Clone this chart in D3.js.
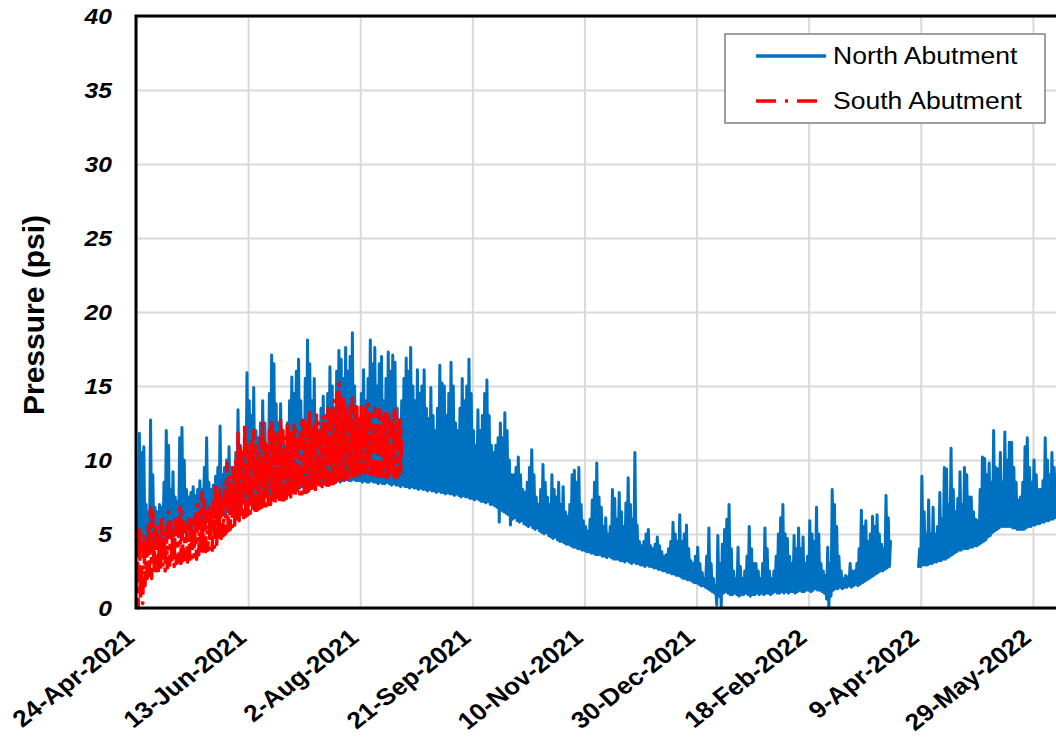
<!DOCTYPE html>
<html><head><meta charset="utf-8">
<script src="https://cdn.jsdelivr.net/npm/d3@7"></script>
<style>body{margin:0;background:#fff}svg{display:block}text{font-family:"Liberation Sans",Arial,sans-serif}</style>
</head><body><svg id="c" width="1056" height="742"></svg>
<script>
// ---------- data ----------
const startDate = "24-Apr-2021";
const xTickLabels = ["24-Apr-2021","13-Jun-2021","2-Aug-2021","21-Sep-2021","10-Nov-2021","30-Dec-2021","18-Feb-2022","9-Apr-2022","29-May-2022"];
const yTicks = [0,5,10,15,20,25,30,35,40];
const seriesNames = ["North Abutment","South Abutment"];

// North Abutment: daily low / daily high (psi), day 0 = 24-Apr-2021, null = no data
const northLo = [
3.8,3.5,3.9,4.0,3.8,4.2,4.1,4.0,4.3,4.4,
4.3,4.5,4.6,4.4,4.7,4.8,4.6,4.9,5.0,4.8,
5.0,5.2,5.1,5.3,5.4,5.2,5.5,5.6,5.4,5.7,
5.8,5.6,5.9,6.0,5.8,6.1,6.2,6.0,6.3,6.4,
6.3,6.5,6.6,6.5,6.8,6.9,6.8,7.0,7.1,7.0,
7.2,7.3,7.2,7.4,7.5,7.4,7.5,7.6,7.5,7.7,
7.7,7.8,7.7,7.8,7.9,7.8,8.0,7.9,8.0,8.1,
8.0,8.1,8.2,8.1,8.2,8.2,8.3,8.2,8.3,8.4,
8.3,8.4,8.4,8.3,8.5,8.4,8.5,8.5,8.6,8.5,
8.6,8.5,8.6,8.6,8.7,8.6,8.6,8.7,8.6,8.6,
8.6,8.5,8.6,8.5,8.5,8.6,8.5,8.5,8.4,8.5,
8.4,8.4,8.5,8.4,8.3,8.4,8.3,8.3,8.2,8.3,
8.2,8.2,8.1,8.2,8.1,8.1,8.0,8.1,8.0,8.0,
7.9,8.0,7.9,7.9,7.8,7.9,7.8,7.8,7.7,7.8,
7.7,7.7,7.6,7.7,7.6,7.5,7.6,7.5,7.5,7.4,
7.4,7.3,7.4,7.3,7.2,7.2,7.1,7.2,7.0,7.0,
6.9,6.8,5.8,6.6,6.5,6.4,6.3,5.6,6.0,6.1,
5.9,5.8,5.9,5.7,5.6,5.5,5.6,5.4,5.3,5.4,
5.2,5.1,5.0,5.1,4.9,4.8,4.7,4.8,4.6,4.5,
4.5,4.4,4.3,4.3,4.2,4.1,4.1,4.0,4.0,3.9,
3.9,3.8,3.8,3.7,3.7,3.6,3.6,3.6,3.5,3.5,
3.4,3.5,3.4,3.3,3.3,3.3,3.2,3.2,3.1,3.2,
3.1,3.0,3.1,3.0,3.0,2.9,2.9,2.8,2.9,2.8,
2.8,2.7,2.7,2.6,2.6,2.5,2.5,2.4,2.4,2.3,
2.3,2.2,2.2,2.1,2.0,2.0,1.9,1.9,1.8,1.7,
1.7,1.6,1.5,1.5,1.4,1.3,1.2,1.1,1.0,0.2,
0.8,0.1,1.0,1.1,1.0,0.9,0.9,1.0,0.9,0.8,
0.9,0.9,1.0,0.9,0.8,0.9,0.9,1.0,0.9,1.0,
0.9,1.0,1.0,0.9,1.0,1.1,1.0,1.0,1.1,1.0,
1.1,1.0,1.1,1.1,1.0,1.1,1.2,1.1,1.1,1.2,
1.2,1.1,1.2,1.3,1.2,1.2,1.1,1.0,0.6,0.0,
0.8,1.2,1.3,1.3,1.4,1.3,1.4,1.4,1.5,1.4,
1.5,1.6,1.5,1.6,1.7,1.8,1.9,2.0,2.1,2.2,
2.3,2.4,2.5,2.5,2.6,2.7,2.8,
null,null,null,null,null,null,null,null,null,null,null,null,
2.8,2.8,2.9,2.9,2.9,3.0,3.0,3.1,3.1,3.2,
3.2,3.3,3.3,3.4,3.5,3.6,3.7,3.8,3.9,3.9,
4.0,4.0,4.0,4.1,4.1,4.2,4.2,4.3,4.4,4.5,
4.6,4.8,4.9,5.1,5.2,5.3,5.4,5.5,5.5,5.5,
5.5,5.5,5.4,5.4,5.3,5.3,5.3,5.3,5.4,5.5,
5.5,5.6,5.6,5.7,5.7,5.8,5.8,5.9,5.9,6.0,
6.0,6.1,6.1,6.2
];
const northHi = [
6.0,11.8,10.5,10.9,7.0,6.5,12.7,9.0,6.8,6.5,
7.0,6.8,8.5,12.0,11.0,8.0,9.2,7.5,7.2,11.5,
12.2,10.0,8.0,7.5,7.8,8.2,7.6,8.0,8.6,8.0,
9.5,11.5,8.5,8.0,8.3,8.9,9.5,12.3,9.0,9.5,
10.0,10.9,9.5,9.0,10.5,13.4,11.0,10.0,12.0,15.9,
14.0,13.0,14.9,12.0,11.5,12.5,14.0,12.5,11.0,14.5,
17.1,16.5,13.8,12.5,13.8,12.0,11.0,12.5,14.0,15.6,
14.5,16.0,16.8,14.0,12.5,15.5,18.1,16.5,14.0,15.5,
13.0,12.0,13.5,14.3,13.0,14.5,16.3,15.0,13.5,16.0,
17.4,16.8,15.5,17.6,16.0,17.0,18.6,15.0,13.0,12.5,
14.5,16.1,14.0,15.5,18.1,16.5,17.6,15.0,16.5,17.0,
14.0,15.5,17.3,16.0,17.1,16.6,13.5,12.5,14.0,15.5,
16.9,16.0,17.6,15.0,14.0,16.1,14.5,15.0,16.1,13.5,
12.8,14.9,13.0,12.0,13.5,16.4,15.2,15.0,13.0,14.5,
16.6,15.0,12.5,12.0,13.5,15.5,14.0,15.0,16.8,14.5,
12.0,11.0,13.4,12.0,13.0,14.5,15.4,13.0,11.0,10.5,
11.0,11.5,12.5,11.5,13.2,12.0,10.0,9.0,9.0,9.5,
10.2,9.0,8.0,7.8,8.5,9.5,10.7,9.0,7.5,7.0,
8.0,9.7,8.5,7.5,7.0,9.0,8.0,7.5,8.5,7.0,
8.2,6.5,6.2,7.0,9.0,9.3,8.5,9.5,7.0,5.9,
5.5,5.2,6.0,7.3,8.5,9.8,7.5,6.8,5.5,6.1,
5.0,5.5,8.0,7.4,6.0,7.8,6.5,5.5,7.1,8.8,
7.0,6.0,10.5,5.6,4.5,4.2,4.5,5.0,5.3,4.2,
4.0,4.3,4.8,4.2,3.8,3.5,3.6,4.0,4.5,5.8,
5.0,4.5,6.3,4.5,5.0,5.6,4.0,3.2,3.0,3.5,
4.1,3.0,2.4,2.0,3.5,5.4,3.0,2.0,1.5,4.9,
3.0,4.3,5.3,6.0,7.0,4.0,2.5,2.0,4.1,2.8,
2.0,2.5,3.5,5.5,4.0,3.0,3.0,2.5,2.0,3.0,
5.4,4.0,2.5,2.0,2.5,3.5,5.0,6.1,7.0,5.0,
4.7,3.5,3.0,4.9,4.0,5.4,4.0,4.8,3.0,3.5,
5.9,5.0,4.5,6.8,5.0,3.0,2.5,2.2,4.1,3.0,
8.0,7.0,5.5,3.5,2.5,2.0,2.2,2.1,3.0,2.5,
2.5,3.0,4.0,6.6,5.5,5.9,4.5,5.0,6.2,5.5,
6.3,5.0,4.3,4.0,7.6,6.1,4.5,
null,null,null,null,null,null,null,null,null,null,null,null,
4.0,8.9,6.5,5.0,7.3,5.0,6.8,5.0,5.5,7.8,
6.0,9.5,9.4,7.0,10.8,8.0,6.5,7.4,9.2,7.0,
9.5,9.0,7.5,7.5,6.5,6.0,5.9,8.0,10.2,10.1,
9.0,9.8,8.5,12.0,9.5,9.4,10.5,8.5,11.9,10.0,
11.2,11.2,9.5,8.5,7.3,7.5,8.5,10.9,11.5,9.5,
8.5,10.0,9.0,8.0,8.0,8.6,11.5,10.0,9.0,10.5,
9.5,9.0,10.0,9.5
];

// South Abutment: daily low / daily high (psi), day 0 = 24-Apr-2021
const southLo = [
1.0,0.0,0.5,0.3,1.5,2.0,2.2,2.0,2.3,2.5,
2.4,2.6,2.8,2.5,2.7,2.9,3.0,2.8,3.0,3.1,
3.0,3.2,3.3,3.1,3.3,3.4,3.5,3.3,3.6,3.7,
3.6,3.8,3.9,4.0,3.9,4.1,4.3,4.5,4.7,4.9,
5.0,5.2,5.3,5.5,5.6,5.8,5.9,6.0,6.1,6.2,
6.3,6.4,6.5,6.6,6.6,6.7,6.8,6.9,6.9,7.0,
7.0,7.1,7.1,7.2,7.2,7.3,7.3,7.4,7.4,7.5,
7.5,7.6,7.6,7.7,7.7,7.8,7.8,7.9,7.9,8.0,
8.0,8.1,8.1,8.2,8.2,8.3,8.3,8.4,8.4,8.5,
8.5,8.6,8.6,8.7,8.7,8.8,8.8,8.9,8.9,9.0,
9.0,9.0,9.1,9.1,9.1,9.0,9.0,9.0,8.9,8.9,
8.9,8.9,8.8,8.8,8.9,8.9,8.8,8.9,9.0
];
const southHi = [
4.5,5.5,3.0,5.0,4.5,5.8,6.8,6.5,5.5,5.0,
5.5,6.0,5.2,5.5,6.5,5.8,5.5,6.0,5.5,6.8,
6.5,5.8,5.5,6.0,6.2,5.8,6.5,7.0,6.5,7.8,
7.5,6.5,7.0,6.8,7.2,8.2,7.5,8.0,7.2,8.5,
9.8,9.0,8.5,9.5,10.0,11.8,11.0,10.5,12.5,11.0,
10.5,11.5,12.0,11.0,10.5,11.5,12.8,11.5,11.0,12.0,
12.8,12.0,11.5,12.0,12.9,12.0,11.5,12.5,12.0,11.8,
12.5,12.0,11.5,12.5,13.0,12.0,12.5,13.2,12.0,12.5,
13.2,12.5,12.0,13.0,12.5,13.5,13.0,13.5,14.0,14.5,
15.2,14.0,14.1,13.5,13.0,13.8,14.2,13.5,13.6,13.0,
13.6,13.0,13.5,13.8,13.2,13.0,13.5,13.0,13.4,12.8,
13.0,13.4,13.0,12.5,13.2,13.4,12.5,13.0,12.0
];

// ---------- chart ----------
(function () {
const svg = d3.select("#c");
const parse = d3.utcParse("%d-%b-%Y");
const fmt = d3.utcFormat("%-d-%b-%Y");
const start = parse(startDate);
const DAY = 86400000;
const mL = 136, mT = 16, mB = 608, mR = 1145;
const SX = 1.12; // horizontal text stretch of the original picture

const x = d3.scaleUtc().domain([start, d3.utcDay.offset(start, 450)]).range([mL, mR]);
const y = d3.scaleLinear().domain([0, 40]).range([mB, mT]);
const xTicks = xTickLabels.map(parse);

// grid
svg.append("g").attr("transform", `translate(0,${mB})`)
  .call(d3.axisBottom(x).tickValues(xTicks).tickSize(-(mB - mT)).tickFormat(""))
  .call(g => { g.select(".domain").remove(); g.selectAll("line").attr("stroke", "#d9d9d9").attr("stroke-width", 2); });
svg.append("g").attr("transform", `translate(${mL},0)`)
  .call(d3.axisLeft(y).tickValues(yTicks).tickSize(-(mR - mL)).tickFormat(""))
  .call(g => { g.select(".domain").remove(); g.selectAll("line").attr("stroke", "#d9d9d9").attr("stroke-width", 2); });

// data
svg.append("clipPath").attr("id", "clip").append("rect")
  .attr("x", mL).attr("y", mT).attr("width", mR - mL).attr("height", mB - mT + 2);

function zigzag(lo, hi) {
  const pts = [];
  lo.forEach((v, i) => {
    if (v == null || hi[i] == null) { pts.push(null); return; }
    pts.push({ t: new Date(+start + i * DAY), v: v });
    pts.push({ t: new Date(+start + (i + 0.5) * DAY), v: hi[i] });
  });
  return pts;
}
const line = d3.line().defined(p => p != null).x(p => x(p.t)).y(p => y(p.v));
const plot = svg.append("g").attr("clip-path", "url(#clip)");
plot.append("path").datum(zigzag(northLo, northHi)).attr("d", line)
  .attr("fill", "none").attr("stroke", "#0070C0").attr("stroke-width", 3).attr("stroke-linejoin", "round").attr("stroke-linecap", "round");
plot.append("path").datum(zigzag(southLo, southHi)).attr("d", line)
  .attr("fill", "none").attr("stroke", "#FF0000").attr("stroke-width", 3.5).attr("stroke-linejoin", "round")
  .attr("stroke-dasharray", "18,7,4,7");

// frame
svg.append("rect").attr("x", mL).attr("y", mT).attr("width", mR - mL).attr("height", mB - mT)
  .attr("fill", "none").attr("stroke", "#000").attr("stroke-width", 3);

// y tick labels
svg.append("g").selectAll("text").data(yTicks).join("text")
  .attr("transform", d => `translate(112,${y(d)}) scale(${SX},1)`)
  .attr("dy", "0.36em").attr("text-anchor", "end")
  .attr("font-size", 22).attr("font-weight", "bold").attr("font-style", "italic")
  .text(d => d);

// x tick labels
svg.append("g").selectAll("text").data(xTicks).join("text")
  .attr("transform", d => `translate(${x(d)},640) scale(${SX},1) rotate(-41)`)
  .attr("text-anchor", "end")
  .attr("font-size", 23.5).attr("font-weight", "bold")
  .text(d => fmt(d));

// y title
svg.append("text").attr("transform", `translate(44,315) rotate(-90)`)
  .attr("text-anchor", "middle").attr("font-size", 30).attr("font-weight", "bold")
  .text("Pressure (psi)");

// legend
const lg = svg.append("g");
lg.append("rect").attr("x", 725).attr("y", 34).attr("width", 320).attr("height", 89)
  .attr("fill", "#fff").attr("stroke", "#808080").attr("stroke-width", 1.5);
const legendItems = [
  { name: seriesNames[0], color: "#0070C0", dash: null, y: 56 },
  { name: seriesNames[1], color: "#FF0000", dash: "20,9,3,9", y: 101 }
];
legendItems.forEach(it => {
  lg.append("line").attr("x1", 756).attr("x2", 826).attr("y1", it.y).attr("y2", it.y)
    .attr("stroke", it.color).attr("stroke-width", 3.5).attr("stroke-dasharray", it.dash);
  lg.append("text").attr("transform", `translate(833,${it.y + 8}) scale(${SX},1)`)
    .attr("font-size", 23.7).text(it.name);
});
})();
</script></body></html>
